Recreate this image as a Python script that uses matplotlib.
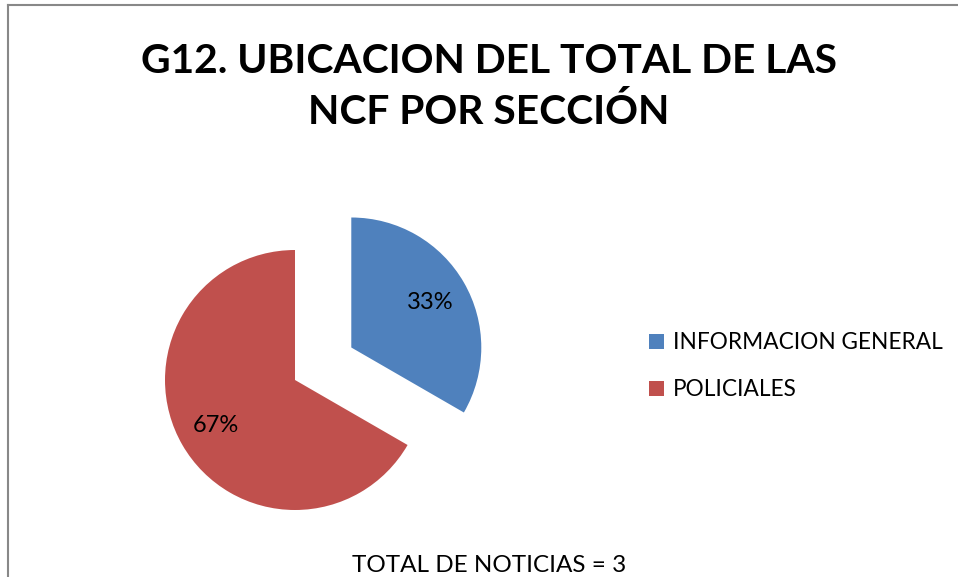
import matplotlib.pyplot as plt
from matplotlib.lines import Line2D

# donnees du graphique
categories = ['INFORMACION GENERAL', 'POLICIALES']
valeurs = [1, 2]
couleurs = ['#4F81BD', '#C0504D']
titre = 'G12. UBICACION DEL TOTAL DE LAS\nNCF POR SECCIÓN'
pied = 'TOTAL DE NOTICIAS = 3'

W, H = 958, 577
plt.rcParams['font.family'] = ['Lato', 'DejaVu Sans']

fig = plt.figure(figsize=(W / 100, H / 100), dpi=100)
ax = fig.add_axes([0, 0, 1, 1])

# camembert (coordonnees en pixels, y vers le haut)
wedges, texts, autotexts = ax.pie(valeurs, colors=couleurs, startangle=90, counterclock=False,
                                  center=(295, H - 380), radius=130, explode=[65, 0],
                                  autopct='%1.0f%%', pctdistance=0.7,
                                  textprops={'fontsize': 17, 'color': 'black'},
                                  frame=True)
ax.set_xlim(0, W)
ax.set_ylim(0, H)
ax.set_aspect('equal')
ax.axis('off')

# cadre (haut et gauche seulement visibles)
fig.add_artist(Line2D([8 / W, 1], [1 - 5 / H, 1 - 5 / H], color='#888888', lw=1.5))
fig.add_artist(Line2D([8 / W, 8 / W], [0, 1 - 5 / H], color='#888888', lw=1.5))

fig.text(489 / W, 1 - 87 / H, titre, ha='center', va='center', fontsize=29.3,
         fontweight='bold', linespacing=1.4)
fig.text(489 / W, 1 - 565 / H, pied, ha='center', va='center', fontsize=17.5)

leg = fig.legend(wedges, categories, loc='upper left', bbox_to_anchor=(638 / W, 1 - 321 / H),
                 frameon=False, fontsize=16.3, handlelength=0.65, handleheight=0.65,
                 handletextpad=0.4, labelspacing=1.15, borderpad=0)

plt.savefig('out.png', dpi=100)
